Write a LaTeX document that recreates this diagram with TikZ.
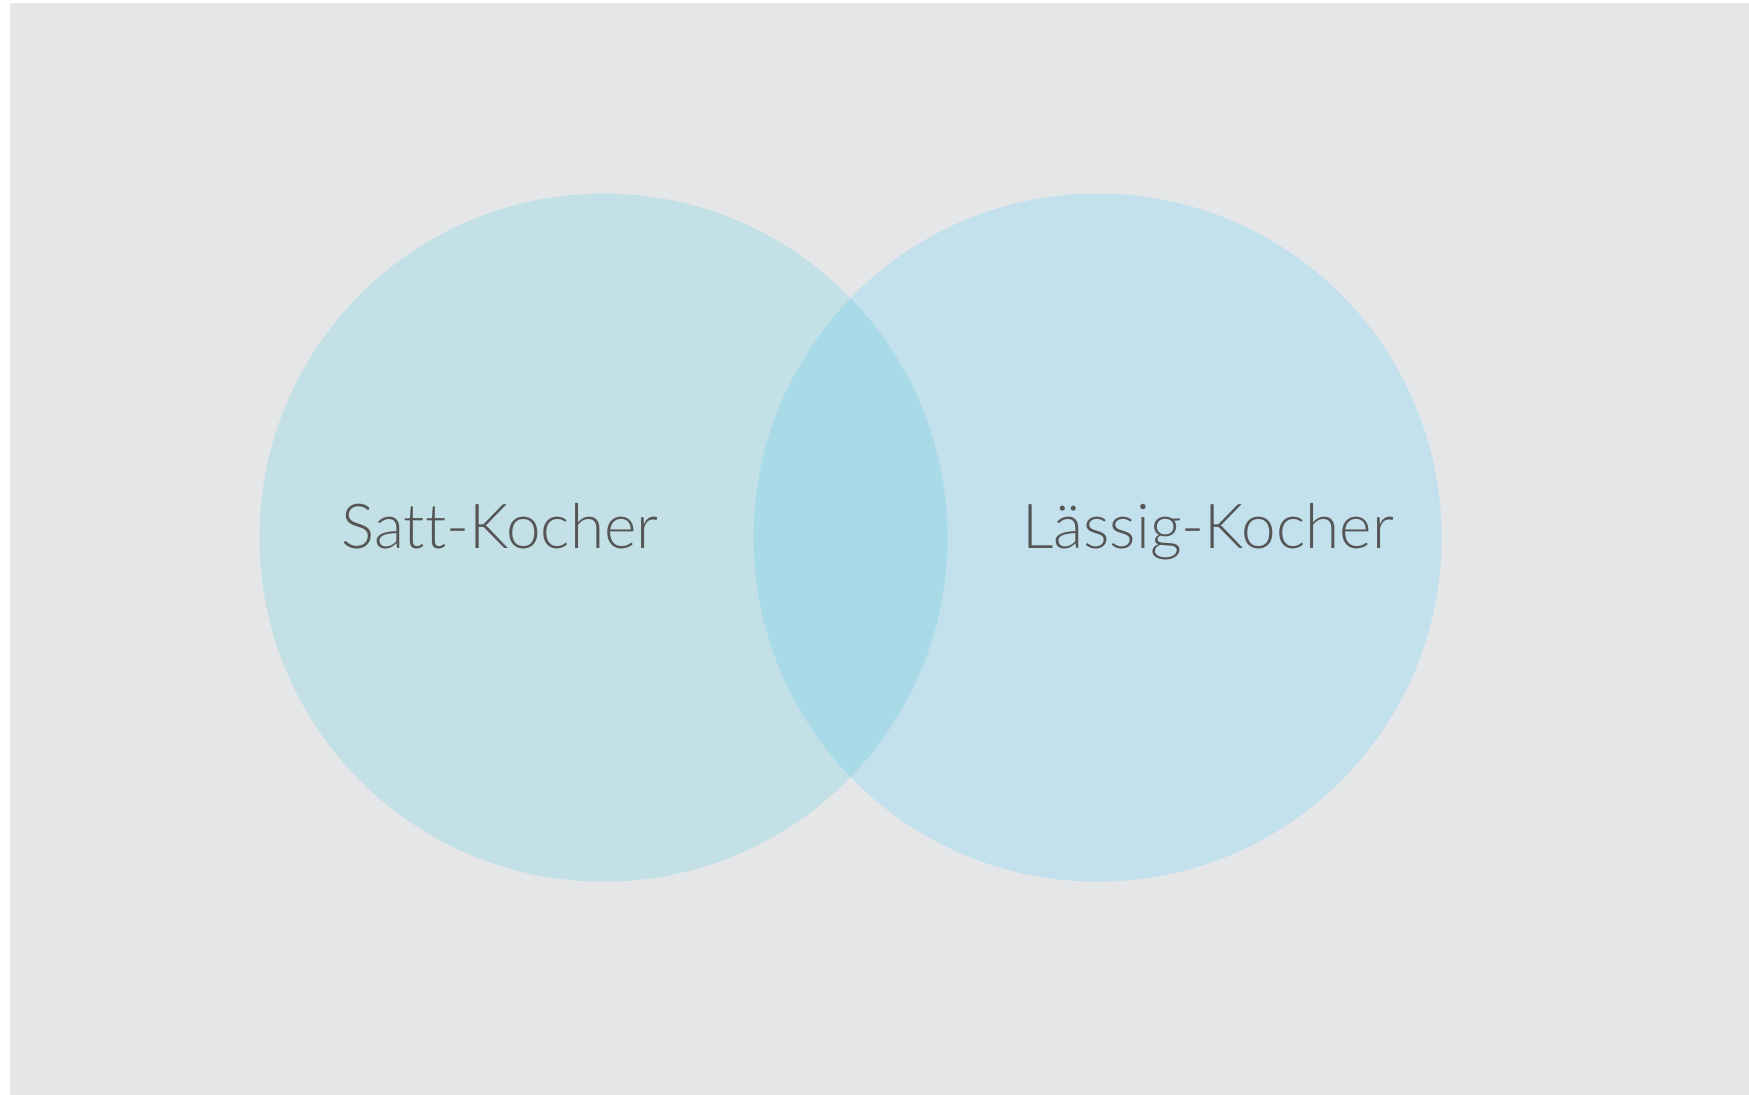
\documentclass[tikz,border=0pt]{standalone}
\usepackage{fontspec}
\setmainfont[Ligatures=NoCommon]{Lato Light}
\usetikzlibrary{positioning}
\definecolor{bggrey}{HTML}{E5E6E8}
\definecolor{sattblue}{HTML}{C3E0E6}
\definecolor{laessigblue}{HTML}{C3E0ED}
\definecolor{bothblue}{HTML}{A9DAE7}
\definecolor{labelgrey}{HTML}{555555}

\begin{document}
\begin{tikzpicture}[x=0.5pt, y=-0.5pt, font=\fontsize{31}{36}\selectfont,
    set/.style={circle, inner sep=0pt, minimum size=344pt},
    setlabel/.style={text=labelgrey, anchor=base}]
  \useasboundingbox (0,0) rectangle (1749,1095);
  \fill[bggrey] (10,3) rectangle (1749,1095);
  \node[set, fill=sattblue] (satt) at (603.5,537.6) {};
  \node[set, fill=laessigblue] (laessig) at (1097.6,537.6) {};
  % overlap
  \begin{scope}
    \clip (satt.center) circle[radius=344];
    \fill[bothblue] (laessig.center) circle[radius=344];
  \end{scope}
  \node[setlabel] (sattl) at (500,549) {Satt-Kocher};
  \node[setlabel] (laessigl) at (1208,549) {Lässig-Kocher};
\end{tikzpicture}
\end{document}
